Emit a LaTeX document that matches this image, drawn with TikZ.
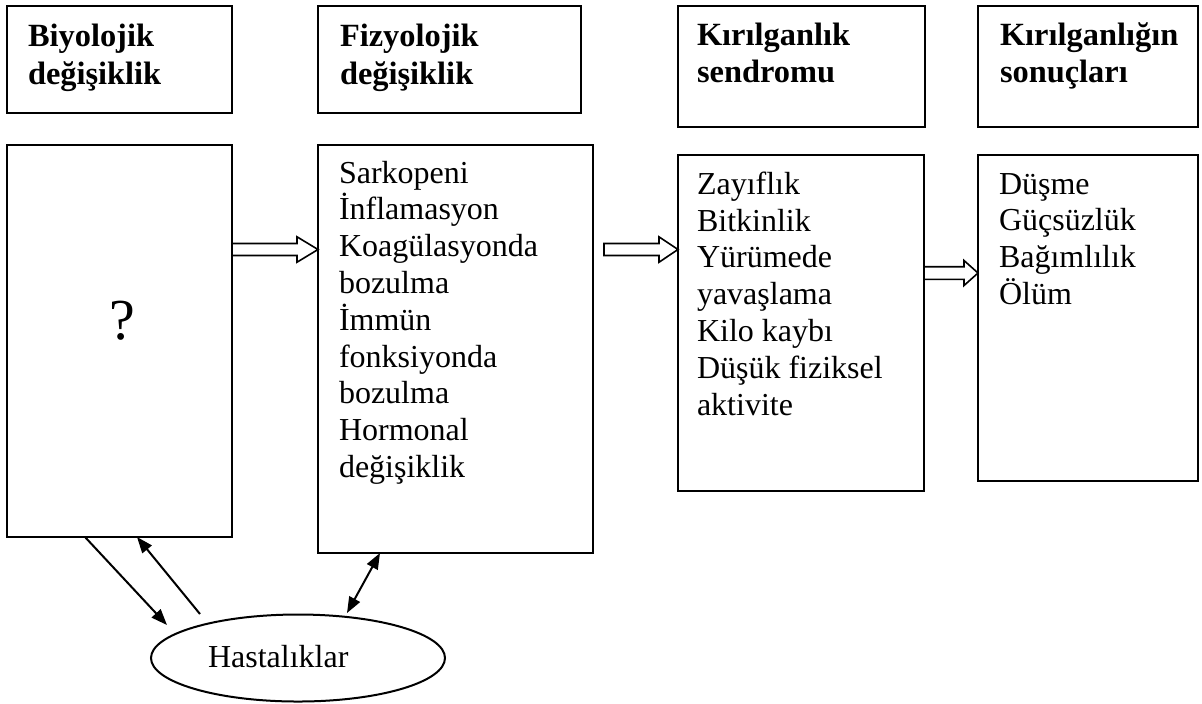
\documentclass[tikz,border=0pt]{standalone}
\usepackage{fontspec}
\setmainfont{Liberation Serif}
\usetikzlibrary{calc,shapes.geometric,arrows.meta}
\newcommand{\bodyfont}{\fontsize{16pt}{18.4pt}\selectfont}
\newcommand{\headfont}{\fontsize{16.2pt}{18.8pt}\selectfont\bfseries}
\newcommand{\qfont}{\fontsize{29pt}{34pt}\selectfont}
\begin{document}
\begin{tikzpicture}[x=0.5pt,y=-0.5pt,
  box/.style={draw, line width=1pt, inner sep=0pt, outer sep=0pt, anchor=north west},
  txt/.style={anchor=base west, inner sep=0pt, outer sep=0pt, font=\bodyfont},
  head/.style={anchor=base west, inner sep=0pt, outer sep=0pt, font=\headfont},
  hollow/.style={draw, fill=white, line width=0.8pt, line join=miter},
  conn/.style={line width=1pt, -{Triangle[length=8pt,width=6pt]}},
  conntwo/.style={line width=1pt, {Triangle[length=8pt,width=6pt]}-{Triangle[length=8pt,width=6pt]}}]
\useasboundingbox (0,0) rectangle (1202,703);
\fill[white] (0,0) rectangle (1202,703);

% header boxes
\node[box, minimum width=112.5pt, minimum height=53.5pt] (T1) at (7,6) {};
\node[box, minimum width=131.5pt, minimum height=53.5pt] (T2) at (318,6) {};
\node[box, minimum width=123.5pt, minimum height=60.5pt] (T3) at (678,6) {};
\node[box, minimum width=110pt, minimum height=60.5pt] (T4) at (978,6) {};

\node[head] (t1) at (28,46.5) {\parbox[t]{100pt}{Biyolojik\\değişiklik}};
\node[head] (t2) at (340,46.5) {\parbox[t]{100pt}{Fizyolojik\\değişiklik}};
\node[head] (t3) at (697,45) {\parbox[t]{100pt}{Kırılganlık\\sendromu}};
\node[head] (t4) at (1000,45) {\parbox[t]{100pt}{Kırılganlığın\\sonuçları}};

% main boxes
\node[box, minimum width=112.5pt, minimum height=196pt] (B1) at (7,145) {};
\node[box, minimum width=137.5pt, minimum height=204pt] (B2) at (318,145) {};
\node[box, minimum width=123pt, minimum height=168pt] (B3) at (678,155) {};
\node[box, minimum width=110pt, minimum height=163pt] (B4) at (978,155) {};

\node[anchor=base, inner sep=0pt, font=\qfont] (q) at (122,339) {?};
\node[txt] (b2) at (339,183) {\parbox[t]{120pt}{Sarkopeni\\İnflamasyon\\Koagülasyonda\\bozulma\\İmmün\\fonksiyonda\\bozulma\\Hormonal\\değişiklik}};
\node[txt] (b3) at (697,194.3) {\parbox[t]{120pt}{Zayıflık\\Bitkinlik\\Yürümede\\yavaşlama\\Kilo kaybı\\Düşük fiziksel\\aktivite}};
\node[txt] (b4) at (999,194) {\parbox[t]{100pt}{Düşme\\Güçsüzlük\\Bağımlılık\\Ölüm}};

% hollow arrows
\coordinate (a1s) at ($(B1.north east)+(0,104.5)$);
\coordinate (a1e) at ($(B2.north west)+(0,104.5)$);
\draw[hollow] ($(a1s)+(0,-6)$) -- ($(a1e)+(-21,-6)$) -- ($(a1e)+(-21,-12.7)$) -- (a1e)
  -- ($(a1e)+(-21,12.7)$) -- ($(a1e)+(-21,6)$) -- ($(a1s)+(0,6)$) -- cycle;

\coordinate (a2s) at ($(B2.north east)+(11,104.5)$);
\coordinate (a2e) at ($(B3.north west)+(0,94.5)$);
\draw[hollow] ($(a2s)+(0,-6)$) -- ($(a2e)+(-19,-6)$) -- ($(a2e)+(-19,-12.7)$) -- (a2e)
  -- ($(a2e)+(-19,12.7)$) -- ($(a2e)+(-19,6)$) -- ($(a2s)+(0,6)$) -- cycle;

\coordinate (a3s) at ($(B3.north east)+(0,118)$);
\coordinate (a3e) at ($(B4.north west)+(0,118)$);
\draw[hollow] ($(a3s)+(0,-6.3)$) -- ($(a3e)+(-14,-6.3)$) -- ($(a3e)+(-14,-12.5)$) -- (a3e)
  -- ($(a3e)+(-14,12.5)$) -- ($(a3e)+(-14,6.3)$) -- ($(a3s)+(0,6.3)$) -- cycle;

% diseases ellipse
\node[ellipse, draw, line width=1pt, minimum width=147pt, minimum height=43.5pt, inner sep=0pt] (H) at (298,658) {};
\node[txt] (ht) at (208,667) {Hastalıklar};

\draw[conn] ($(B1.south west)+(78,0)$) -- ($(H.center)+(-131,-33)$);
\draw[conn] ($(H.center)+(-98,-44)$) -- ($(B1.south west)+(130,0)$);
\draw[conntwo] ($(B2.south west)+(62,0)$) -- ($(H.center)+(49,-45)$);
\end{tikzpicture}
\end{document}
